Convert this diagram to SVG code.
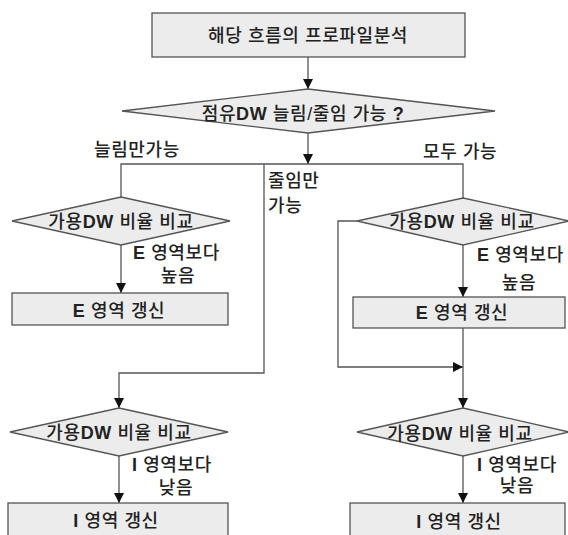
<svg xmlns="http://www.w3.org/2000/svg" width="568" height="535" viewBox="0 0 568 535">
<defs>
<style>
.n{fill:#ececec;stroke:#555;stroke-width:1.3}
.c{fill:none;stroke:#555;stroke-width:1.3}
text{font-family:"Liberation Sans","Noto Sans CJK KR",sans-serif;font-size:18px;font-weight:500;fill:#222;letter-spacing:0.6px}
.m{text-anchor:middle}
.b{font-weight:bold}
</style>
<marker id="ah" viewBox="0 0 10 10" refX="10" refY="5" markerWidth="10" markerHeight="11" markerUnits="userSpaceOnUse" orient="auto"><path d="M0,0 L10,5 L0,10 Z" fill="#111"/></marker>
</defs>
<rect width="568" height="535" fill="#fff"/>
<g id="connectors">
<path class="c" d="M308,57 V89" marker-end="url(#ah)"/>
<path class="c" d="M308,133 V164" marker-end="url(#ah)"/>
<path class="c" d="M121,197 V164 H463 V198"/>
<path class="c" d="M121,245 V293" marker-end="url(#ah)"/>
<path class="c" d="M264,164 V373 H119 V408" marker-end="url(#ah)"/>
<path class="c" d="M119,456 V503" marker-end="url(#ah)"/>
<path class="c" d="M463,245 V297" marker-end="url(#ah)"/>
<path class="c" d="M357,221 H338 V367 H463" marker-end="url(#ah)"/>
<path class="c" d="M463,328 V408" marker-end="url(#ah)"/>
<path class="c" d="M463,456 V503" marker-end="url(#ah)"/>
<text x="94" y="156">늘림만가능</text>
<text x="423" y="158">모두 가능</text>
<text x="268" y="187">줄임만</text>
<text x="268" y="212">가능</text>
<text x="133" y="259"><tspan class="b">E</tspan> 영역보다</text>
<text x="178" y="282" class="m">높음</text>
<text x="477" y="261"><tspan class="b">E</tspan> 영역보다</text>
<text x="519" y="289" class="m">높음</text>
<text x="132" y="471"><tspan class="b">I</tspan> 영역보다</text>
<text x="176" y="494" class="m">낮음</text>
<text x="477" y="471"><tspan class="b">I</tspan> 영역보다</text>
<text x="517" y="492" class="m">낮음</text>
</g>
<g id="start">
<rect class="n" x="152" y="13" width="313" height="44"/>
<text x="308" y="42" class="m">해당 흐름의 프로파일분석</text>
</g>
<g id="d1">
<polygon class="n" points="308,89 495,111 308,133 122,111"/>
<text x="303" y="120" class="m">점유<tspan class="b">DW</tspan> 늘림/줄임 가능 <tspan class="b">?</tspan></text>
</g>
<g id="d2">
<polygon class="n" points="121,197 230,221 121,245 12,221"/>
<text x="121" y="228" class="m">가용<tspan class="b">DW</tspan> 비율 비교</text>
</g>
<g id="e1">
<rect class="n" x="12" y="293" width="216" height="32"/>
<text x="119" y="317" class="m"><tspan class="b">E</tspan> 영역 갱신</text>
</g>
<g id="d3">
<polygon class="n" points="463,198 569,221 463,245 357,221"/>
<text x="462" y="228" class="m">가용<tspan class="b">DW</tspan> 비율 비교</text>
</g>
<g id="e2">
<rect class="n" x="353" y="297" width="212" height="31"/>
<text x="462" y="319" class="m"><tspan class="b">E</tspan> 영역 갱신</text>
</g>
<g id="d4">
<polygon class="n" points="119,408 228,432 119,456 10,432"/>
<text x="119" y="439" class="m">가용<tspan class="b">DW</tspan> 비율 비교</text>
</g>
<g id="i1">
<rect class="n" x="8" y="503" width="220" height="40"/>
<text x="116" y="527" class="m"><tspan class="b">I</tspan> 영역 갱신</text>
</g>
<g id="d5">
<polygon class="n" points="463,408 569,432 463,456 357,432"/>
<text x="460" y="440" class="m">가용<tspan class="b">DW</tspan> 비율 비교</text>
</g>
<g id="i2">
<rect class="n" x="350" y="503" width="215" height="40"/>
<text x="459" y="528" class="m"><tspan class="b">I</tspan> 영역 갱신</text>
</g>
</svg>
